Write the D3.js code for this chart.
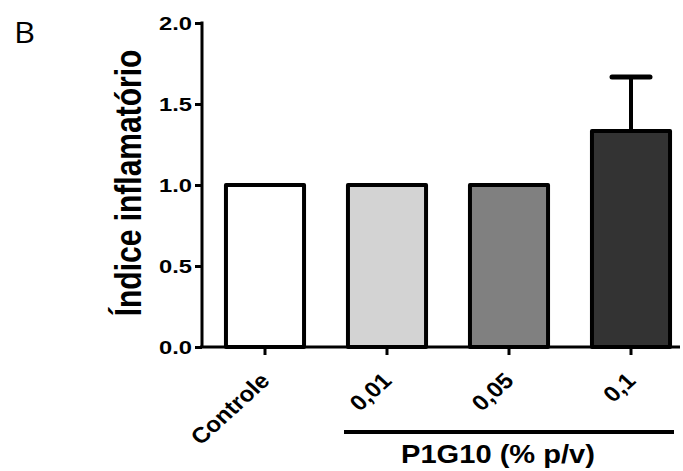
<!DOCTYPE html>
<html>
<head>
<meta charset="utf-8">
<script src="https://cdn.jsdelivr.net/npm/d3@7"></script>
<style>
	body { margin: 0; background: #fff; }
	svg text { font-family: "Liberation Sans", Arial, sans-serif; font-weight: bold; fill: #000; }
	.axis path, .axis line { stroke: #000; stroke-width: 3px; }
</style>
</head>
<body>
<script>
(function(){

	//chart data
	var categories = ["Controle", "0,01", "0,05", "0,1"];
	var values = [1.0, 1.0, 1.0, 1.333];
	var errors = [0, 0, 0, 0.333];
	var fills = ["#ffffff", "#d3d3d3", "#808080", "#333333"];
	var yTicks = [0, 0.5, 1.0, 1.5, 2.0];

	var width = 683, height = 471;

	var svg = d3.select("body")
		.append("svg")
		.attr("width", width)
		.attr("height", height);

	//scales
	var x = d3.scaleBand()
		.domain(categories)
		.range([204, 692])
		.paddingInner(0.36)
		.paddingOuter(0.18);

	var y = d3.scaleLinear()
		.domain([0, 2])
		.range([347, 23]);

	//panel letter
	svg.append("text")
		.attr("x", 14)
		.attr("y", 43)
		.attr("textLength", 21)
		.attr("lengthAdjust", "spacingAndGlyphs")
		.style("font-family", "'Open Sans', sans-serif")
		.style("font-weight", "normal")
		.style("font-size", "29px")
		.text("B");

	//bars
	svg.selectAll(".bar")
		.data(categories)
		.enter()
		.append("rect")
		.attr("class", "bar")
		.attr("x", function(d){ return x(d); })
		.attr("width", x.bandwidth())
		.attr("y", function(d, i){ return y(values[i]); })
		.attr("height", function(d, i){ return y(0) - y(values[i]); })
		.style("fill", function(d, i){ return fills[i]; })
		.style("stroke", "#000")
		.style("stroke-width", 4)
		.style("stroke-linejoin", "round");

	//error bars (upper only)
	categories.forEach(function(d, i){
		if (errors[i] <= 0) return;
		var cx = x(d) + x.bandwidth() / 2;
		svg.append("line")
			.attr("x1", cx).attr("x2", cx)
			.attr("y1", y(values[i]))
			.attr("y2", y(values[i] + errors[i]))
			.style("stroke", "#000")
			.style("stroke-width", 4);
		svg.append("line")
			.attr("x1", cx - 19).attr("x2", cx + 19)
			.attr("y1", y(values[i] + errors[i]))
			.attr("y2", y(values[i] + errors[i]))
			.style("stroke", "#000")
			.style("stroke-width", 5)
			.style("stroke-linecap", "round");
	});

	//y axis
	var yAxis = d3.axisLeft(y)
		.tickValues(yTicks)
		.tickSize(7)
		.tickSizeOuter(0)
		.tickPadding(3)
		.tickFormat(d3.format(".1f"));

	var gy = svg.append("g")
		.attr("class", "axis")
		.attr("transform", "translate(202,0)")
		.call(yAxis);
	gy.select(".domain").attr("d", "M0," + (y(2) - 1.5) + "V" + y(0));
	gy.selectAll("text")
		.attr("dy", "0.36em")
		.attr("textLength", 33)
		.attr("lengthAdjust", "spacingAndGlyphs")
		.style("font-size", "19px");

	//x axis
	var xAxis = d3.axisBottom(x)
		.tickSize(8)
		.tickSizeOuter(0)
		.tickFormat("");

	var gx = svg.append("g")
		.attr("class", "axis")
		.attr("transform", "translate(0," + y(0) + ")")
		.call(xAxis);
	gx.select(".domain").attr("d", "M200,0H680");

	//rotated category labels
	svg.selectAll(".xlabel")
		.data(categories)
		.enter()
		.append("text")
		.attr("class", "xlabel")
		.attr("text-anchor", "end")
		.attr("transform", function(d){
			return "translate(" + (x(d) + x.bandwidth() / 2 + 6) + ",382) scale(1.1,1) rotate(-45)";
		})
		.style("font-size", "22px")
		.text(function(d){ return d; });

	//group bracket
	svg.append("line")
		.attr("x1", 344)
		.attr("x2", 674)
		.attr("y1", 432).attr("y2", 432)
		.style("stroke", "#000")
		.style("stroke-width", 4);

	svg.append("text")
		.attr("x", 498)
		.attr("y", 463)
		.attr("text-anchor", "middle")
		.attr("textLength", 194)
		.attr("lengthAdjust", "spacingAndGlyphs")
		.style("font-size", "25px")
		.text("P1G10 (% p/v)");

	//y axis title
	svg.append("text")
		.attr("text-anchor", "middle")
		.attr("transform", "translate(141,183) scale(1.22,1) rotate(-90)")
		.style("font-size", "30px")
		.text("Índice inflamatório");

})();
</script>
</body>
</html>
